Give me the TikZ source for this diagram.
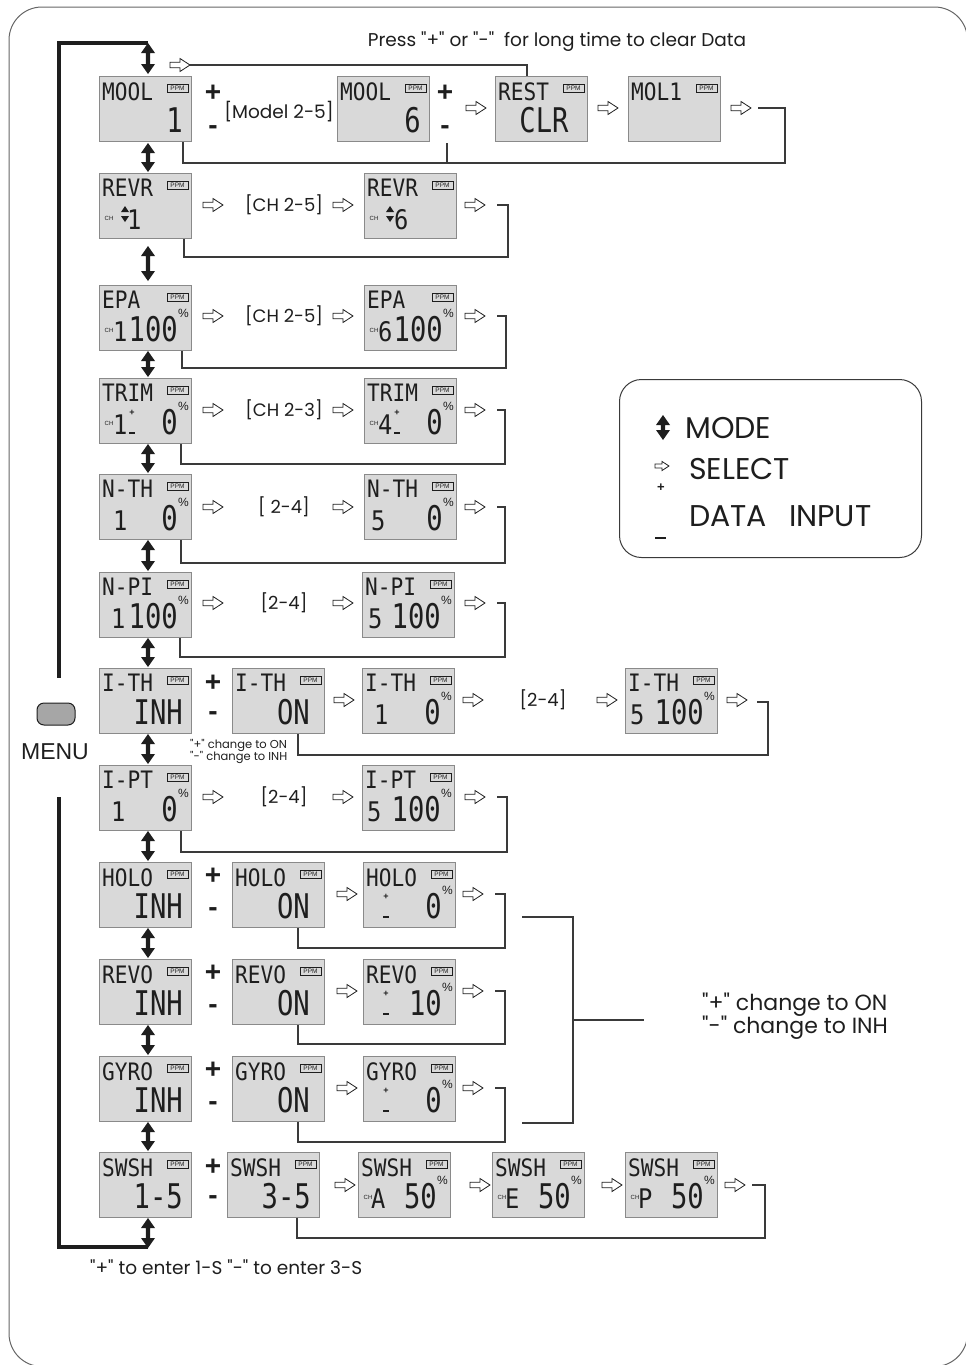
\documentclass[tikz,border=0pt]{standalone}
\usepackage{fontspec}
\setmainfont{Poppins}
\newfontfamily\pp{Poppins}
\newfontfamily\lcdf[FakeStretch=0.88]{DejaVu Sans Mono}
\newfontfamily\lcdb[FakeStretch=0.8]{DejaVu Sans Mono}
\newfontfamily\arialf{Liberation Sans}
\usetikzlibrary{calc}
\definecolor{lcdfill}{HTML}{D9D9D9}
\definecolor{lcdedge}{HTML}{8A8A8A}
\definecolor{ink}{HTML}{1E1E1E}
\definecolor{lnc}{HTML}{3A3A3A}
\tikzset{
 lcdbox/.style={draw=lcdedge, fill=lcdfill, line width=1pt, minimum width=92pt, minimum height=65pt, inner sep=0pt, anchor=north west},
 lt/.style={anchor=north west, inner sep=0pt, text=ink, font=\lcdf\fontsize{24}{24}\selectfont},
 lv/.style={anchor=base east, inner sep=0pt, text=ink, font=\lcdb\fontsize{34}{34}\selectfont},
 lm/.style={anchor=base west, inner sep=0pt, text=ink, font=\lcdf\fontsize{27}{27}\selectfont},
 ppm/.style={draw=ink, line width=0.6pt, minimum width=21pt, minimum height=8pt, inner sep=0pt, font=\arialf\fontsize{6.5}{6.5}\selectfont, text=ink},
 pct/.style={inner sep=0pt, text=ink, font=\arialf\fontsize{12}{12}\selectfont},
 chlab/.style={inner sep=0pt, text=ink, font=\arialf\fontsize{6}{6}\selectfont},
 sign/.style={inner sep=0pt, text=ink, font=\arialf\bfseries\fontsize{28}{28}\selectfont},
 lbl/.style={inner sep=0pt, text=ink, font=\pp\fontsize{18}{18}\selectfont},
 ret/.style={draw=lnc, line width=1.1pt},
 tinyplus/.style={inner sep=0pt, text=ink, font=\arialf\bfseries\fontsize{9}{9}\selectfont},
 note/.style={anchor=west, inner sep=0pt, text=ink, font=\pp\fontsize{#1}{#1}\selectfont},
}
\newcommand\sel[3][1]{\begin{scope}[shift={(#2,#3)}, scale=#1]
 \draw[ink, fill=white, line width=0.8pt, line join=miter] (0,-2.8) -- (10,-2.8) -- (10,-6.5) -- (20,0) -- (10,6.5) -- (10,2.8) -- (0,2.8) -- cycle;
 \end{scope}}
\newcommand\modearr[3]{\fill[ink] (#1,#2) -- (#1+7,#2+10) -- (#1+2.2,#2+10) -- (#1+2.2,#3-10) -- (#1+7,#3-10) -- (#1,#3) -- (#1-7,#3-10) -- (#1-2.2,#3-10) -- (#1-2.2,#2+10) -- (#1-7,#2+10) -- cycle;}
\newcommand\lcd[4]{%
 \node[lcdbox] (#1) at (#2,#3) {};
 \node[lt] (#1-t) at (#2+3,#3+6) {#4};
 \node[ppm] (#1-p) at (#2+78.5,#3+12) {PPM};}
\newcommand\val[4]{\node[lv] (#1-v) at (#2+84,#3+56) {#4};}
\newcommand\valx[5]{\node[lv] (#1-v) at (#2+#4,#3+56) {#5};}
\newcommand\pval[4]{\node[lv] (#1-v) at (#2+79,#3+56) {#4}; \node[pct] (#1-pc) at (#2+84.5,#3+28) {\%};}
\newcommand\chn[5]{\node[lm] (#1-n) at (#2+#4,#3+56) {#5};}
\newcommand\chl[3]{\node[chlab] (#1-ch) at (#2+10,#3+45) {CH};}
\newcommand\trimpm[4]{\node[tinyplus] (#1-pl) at (#2+#4,#3+35) {+}; \draw[ink, line width=1.1pt] (#2+#4-3,#3+55) -- (#2+#4+3,#3+55);}
\newcommand\updn[3]{\fill[ink] (#2+26,#3+33) -- (#2+30,#3+39) -- (#2+22,#3+39) -- cycle; \fill[ink] (#2+22,#3+43) -- (#2+30,#3+43) -- (#2+26,#3+49) -- cycle;}
\newcommand\pmsigns[3]{\node[sign] (#1-plus) at (213,#2) {+}; \node[sign] (#1-minus) at (213,#3) {-};}
\begin{document}
\begin{tikzpicture}[x=1pt,y=-1pt]
\useasboundingbox (0,0) rectangle (966,1365);
\clip (0,0) rectangle (966,1365);
\draw[black!60, line width=1pt, rounded corners=33pt] (9,7) rectangle (967.5,1366.5);

% top note
\node[inner sep=0pt, text=ink, font=\pp\fontsize{18.5}{18.5}\selectfont] (note) at (557,42) {Press "+" or "-"\ \ for long time to clear Data};

% left menu loop
\draw[ink, line width=3.5pt] (148,43) -- (59,43) -- (59,678);
\draw[ink, line width=3.5pt] (59,797) -- (59,1247) -- (148,1247);
\node[draw=ink, fill=black!35, rounded corners=7pt, minimum width=38pt, minimum height=22pt, line width=1pt] (menu) at (56,714) {};
\node[inner sep=0pt, text=ink, font=\arialf\fontsize{23}{23}\selectfont] (menut) at (55,752) {MENU};

% mode arrows
\modearr{148}{43}{74}
\modearr{148}{143}{172}
\modearr{148}{246}{281}
\modearr{148}{351}{377}
\modearr{148}{444}{473}
\modearr{148}{540}{571}
\modearr{148}{638}{667}
\modearr{148}{734}{764}
\modearr{148}{831}{861}
\modearr{148}{928}{958}
\modearr{148}{1025}{1055}
\modearr{148}{1122}{1151}
\modearr{148}{1218}{1248}

% Row 1 MODEL
\lcd{m1}{99}{76}{MOOL} \val{m1}{99}{76}{1}
\pmsigns{r1}{93}{130}
\node[inner sep=0pt, text=ink, font=\pp\fontsize{18.5}{18.5}\selectfont] (r1-l) at (279,112) {[Model 2-5]};
\lcd{m6}{337}{76}{MOOL} \val{m6}{337}{76}{6}
\node[sign] (r1-plus2) at (445,93) {+}; \node[sign] (r1-minus2) at (445,130) {-};
\sel{466}{108}
\lcd{rs}{495}{76}{REST} \node[lv, anchor=base] (rs-v) at (495+49,76+56) {CLR};
\sel{598}{108}
\lcd{ml}{628}{76}{MOL1}
\sel{731}{108}
\sel{170}{65}
\draw[ret] (190,65) -| ($(rs.north west)+(32,0)$);
\draw[ret] ($(m1.south west)+(84,0)$) |- (785,163) |- (758,108);
\draw[ret] (447,143) -- (447,163);

% Row 2 REVR
\lcd{ra}{99}{173}{REVR} \chl{ra}{99}{173} \updn{ra}{99}{173} \chn{ra}{99}{173}{28}{1}
\sel{203}{205} \node[lbl] (ra-l) at (284,205) {[CH 2-5]}; \sel{333}{205}
\lcd{rb}{364}{173}{REVR} \chl{rb}{364}{173} \updn{rb}{364}{173} \chn{rb}{364}{173}{30}{6}
\sel{465}{205}
\draw[ret] ($(ra.south west)+(85,0)$) |- (508,257) |- (497,205);

% Row 3 EPA
\lcd{ea}{99}{285}{EPA} \chl{ea}{99}{285} \chn{ea}{99}{285}{14}{1} \pval{ea}{99}{285}{100}
\sel{203}{316} \node[lbl] (ea-l) at (284,316) {[CH 2-5]}; \sel{333}{316}
\lcd{eb}{364}{285}{EPA} \chl{eb}{364}{285} \chn{eb}{364}{285}{14}{6} \pval{eb}{364}{285}{100}
\sel{465}{316}
\draw[ret] ($(ea.south west)+(83,0)$) |- (506,368) |- (497,316);

% Row 4 TRIM
\lcd{ta}{99}{378}{TRIM} \chl{ta}{99}{378} \chn{ta}{99}{378}{14}{1} \trimpm{ta}{99}{378}{33} \pval{ta}{99}{378}{0}
\sel{203}{410} \node[lbl] (ta-l) at (284,410) {[CH 2-3]}; \sel{333}{410}
\lcd{tb}{364}{378}{TRIM} \chl{tb}{364}{378} \chn{tb}{364}{378}{14}{4} \trimpm{tb}{364}{378}{33} \pval{tb}{364}{378}{0}
\sel{465}{410}
\draw[ret] ($(ta.south west)+(82,0)$) |- (505,464) |- (497,410);

% Row 5 N-TH
\lcd{na}{99}{474}{N-TH} \chn{na}{99}{474}{14}{1} \pval{na}{99}{474}{0}
\sel{203}{507} \node[lbl] (na-l) at (284,507) {[ 2-4]}; \sel{333}{507}
\lcd{nb}{364}{474}{N-TH} \chn{nb}{364}{474}{7}{5} \pval{nb}{364}{474}{0}
\sel{465}{507}
\draw[ret] ($(na.south west)+(82,0)$) |- (505,563) |- (497,507);

% Row 6 N-PI
\lcd{pa}{99}{572}{N-PI} \chn{pa}{99}{572}{12}{1} \pval{pa}{99}{572}{100}
\sel{203}{603} \node[lbl] (pa-l) at (284,603) {[2-4]}; \sel{333}{603}
\lcd{pb}{362}{572}{N-PI} \chn{pb}{362}{572}{6}{5} \pval{pb}{362}{572}{100}
\sel{465}{603}
\draw[ret] ($(pa.south west)+(81,0)$) |- (505,657) |- (497,603);

% Row 7 I-TH
\lcd{ia}{99}{668}{I-TH} \val{ia}{99}{668}{INH}
\pmsigns{r7}{683}{716}
\lcd{ib}{232}{668}{I-TH} \valx{ib}{232}{668}{78}{ON}
\sel{334}{700}
\lcd{ic}{362}{668}{I-TH} \chn{ic}{362}{668}{12}{1} \pval{ic}{362}{668}{0}
\sel{463}{700} \node[lbl] (ic-l) at (543,700) {[2-4]}; \sel{597}{700}
\lcd{ie}{625}{668}{I-TH} \chn{ie}{625}{668}{5}{5} \pval{ie}{625}{668}{100}
\sel{727}{700}
\draw[ret] ($(ib.south west)+(66,0)$) |- (768,755) |- (757,702);
\node[note=11.5] (ith-n1) at (190,745) {"+" change to ON};
\node[note=11.5] (ith-n2) at (190,757.5) {"-" change to INH};

% Row 8 I-PT
\lcd{ja}{99}{765}{I-PT} \chn{ja}{99}{765}{12}{1} \pval{ja}{99}{765}{0}
\sel{203}{797} \node[lbl] (ja-l) at (284,797) {[2-4]}; \sel{333}{797}
\lcd{jb}{362}{765}{I-PT} \chn{jb}{362}{765}{5}{5} \pval{jb}{362}{765}{100}
\sel{465}{797}
\draw[ret] ($(ja.south west)+(82,0)$) |- (507,852) |- (497,797);

% Row 9 HOLD
\lcd{ha}{99}{862}{HOLO} \val{ha}{99}{862}{INH}
\pmsigns{r9}{876}{912}
\lcd{hb}{232}{862}{HOLO} \valx{hb}{232}{862}{78}{ON}
\sel{337}{894}
\lcd{hc}{363}{862}{HOLO} \trimpm{hc}{363}{862}{23} \pval{hc}{363}{862}{0}
\sel{463}{894}
\draw[ret] ($(hb.south west)+(66,0)$) |- (505,948) |- (495,894);

% Row 10 REVO
\lcd{va}{99}{959}{REVO} \val{va}{99}{959}{INH}
\pmsigns{r10}{973}{1009}
\lcd{vb}{232}{959}{REVO} \valx{vb}{232}{959}{78}{ON}
\sel{337}{991}
\lcd{vc}{363}{959}{REVO} \trimpm{vc}{363}{959}{23} \pval{vc}{363}{959}{10}
\sel{463}{991}
\draw[ret] ($(vb.south west)+(66,0)$) |- (505,1044) |- (495,991);

% Row 11 GYRO
\lcd{ga}{99}{1056}{GYRO} \val{ga}{99}{1056}{INH}
\pmsigns{r11}{1070}{1106}
\lcd{gb}{232}{1056}{GYRO} \valx{gb}{232}{1056}{78}{ON}
\sel{337}{1088}
\lcd{gc}{363}{1056}{GYRO} \trimpm{gc}{363}{1056}{23} \pval{gc}{363}{1056}{0}
\sel{463}{1088}
\draw[ret] ($(gb.south west)+(66,0)$) |- (505,1142) |- (495,1088);

% bracket
\draw[ret] (522,917) -- (573,917) -- (573,1123) -- (522,1123);
\draw[ret] (573,1020) -- (644,1020);
\node[note=22] (br-n1) at (702,1005) {"+" change to ON};
\node[note=22] (br-n2) at (702,1028) {"-" change to INH};

% Row 12 SWSH
\lcd{sa}{99}{1152}{SWSH} \val{sa}{99}{1152}{1-5}
\pmsigns{r12}{1167}{1200}
\lcd{sb}{227}{1152}{SWSH} \val{sb}{227}{1152}{3-5}
\sel{335}{1185}
\lcd{sc}{358}{1152}{SWSH} \chl{sc}{358}{1152} \chn{sc}{358}{1152}{13}{A} \pval{sc}{358}{1152}{50}
\sel{470}{1185}
\lcd{sd}{492}{1152}{SWSH} \chl{sd}{492}{1152} \chn{sd}{492}{1152}{13}{E} \pval{sd}{492}{1152}{50}
\sel{602}{1185}
\lcd{se}{625}{1152}{SWSH} \chl{se}{625}{1152} \chn{se}{625}{1152}{13}{P} \pval{se}{625}{1152}{50}
\sel{725}{1185}
\draw[ret] ($(sb.south west)+(70,0)$) |- (765,1238) |- (752,1185);
\node[note=18.5] (bottom) at (90,1267) {"+" to enter 1-S "-" to enter 3-S};

% legend
\node[draw=lnc, line width=1pt, rounded corners=22pt, minimum width=302pt, minimum height=178pt, anchor=north west, inner sep=0pt] (legend) at (619,379) {};
\modearr{663}{415}{440}
\node[note=30] (lg-mode) at (685,428) {MODE};
\sel[0.7]{655}{466}
\node[note=30] (lg-sel) at (689,469) {SELECT};
\node[tinyplus, font=\arialf\bfseries\fontsize{13}{13}\selectfont] (lg-plus) at (661,488) {+};
\node[note=30] (lg-data) at (689,516) {DATA\hspace{22pt}INPUT};
\draw[ink, line width=2pt] (655,538) -- (666,538);
\end{tikzpicture}
\end{document}
